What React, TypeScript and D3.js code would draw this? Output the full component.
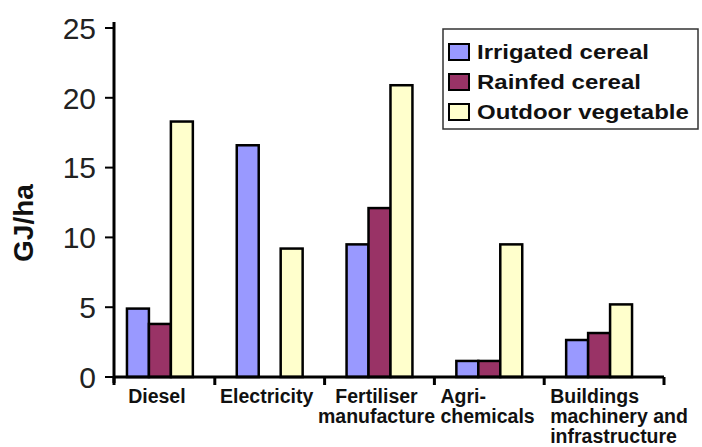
import React from "react";
import * as d3 from "d3";

const categories = ["Diesel", "Electricity", "Fertiliser manufacture", "Agri-chemicals", "Buildings machinery and infrastructure"];
const categoryLines = [["Diesel"], ["Electricity"], ["Fertiliser", "manufacture"], ["Agri-", "chemicals"], ["Buildings", "machinery and", "infrastructure"]];
const seriesNames = ["Irrigated cereal", "Rainfed cereal", "Outdoor vegetable"];
const irrigated = [4.9, 16.6, 9.5, 1.15, 2.65];
const rainfed = [3.8, 0, 12.1, 1.15, 3.15];
const outdoor = [18.3, 9.2, 20.9, 9.5, 5.2];
const yTicks = [0, 5, 10, 15, 20, 25];
const colors = ["#9999ff", "#993366", "#ffffcc"];

const FONT = "'Liberation Sans', Arial, sans-serif";

export default function App() {
  const W = 702, H = 447;
  const axisLeft = 114, axisRight = 664, yBottom = 377, yTop = 28;
  const series = [irrigated, rainfed, outdoor];
  const x = d3.scaleBand<string>().domain(categories).range([105, 654]).padding(0);
  const bw = x.bandwidth();
  const xs = d3.scaleBand<string>().domain(seriesNames).range([bw * 0.2, bw * 0.8]).padding(0);
  const y = d3.scaleLinear().domain([0, 25]).range([yBottom, yTop]);
  const labelAlign = ["middle", "middle", "middle", "start", "start"];
  const sepTicks = [axisLeft, ...categories.slice(1).map((c) => x(c) as number), axisRight];

  return (
    <svg width={W} height={H} style={{ position: "absolute", left: 0, top: 0, background: "#fff" }} fontFamily={FONT}>
      <rect x={0} y={0} width={W} height={H} fill="#fff" />
      {/* bars */}
      {categories.map((c, i) => (
        <g key={c} transform={`translate(${x(c)},0)`}>
          {seriesNames.map((s, j) => {
            const v = series[j][i];
            if (!v) return null;
            return (
              <rect key={s} x={xs(s)} y={y(v)} width={xs.bandwidth()} height={y(0) - y(v)}
                fill={colors[j]} stroke="#000" strokeWidth={2.5} />
            );
          })}
        </g>
      ))}
      {/* y axis */}
      <line x1={axisLeft} x2={axisLeft} y1={22} y2={383} stroke="#000" strokeWidth={3} />
      {yTicks.map((t) => (
        <g key={t}>
          <line x1={105} x2={axisLeft} y1={y(t)} y2={y(t)} stroke="#000" strokeWidth={2} />
          <text x={96} y={y(t)} dy="0.36em" textAnchor="end" fontSize={30} fill="#222">{t}</text>
        </g>
      ))}
      {/* x axis */}
      <line x1={axisLeft} x2={axisRight} y1={yBottom} y2={yBottom} stroke="#000" strokeWidth={3} />
      {sepTicks.map((px, k) => (
        <line key={k} x1={px} x2={px} y1={yBottom} y2={yBottom + 8} stroke="#000" strokeWidth={3} />
      ))}
      {categories.map((c, i) => {
        const align = labelAlign[i];
        const lx = align === "middle" ? (x(c) as number) + bw / 2 - 3 : (x(c) as number) + 6;
        return (
          <text key={c} textAnchor={align} fontSize={19.5} fontWeight="bold" fill="#111">
            {categoryLines[i].map((ln, k) => (
              <tspan key={k} x={lx} y={403 + k * 20}>{ln}</tspan>
            ))}
          </text>
        );
      })}
      {/* y label */}
      <text transform="translate(33,223) rotate(-90)" textAnchor="middle" fontSize={28} fontWeight="bold" fill="#111">GJ/ha</text>
      {/* legend */}
      <rect x={443} y={29} width={255} height={100} fill="#fff" stroke="#333" strokeWidth={1.5} />
      {seriesNames.map((s, j) => (
        <g key={s}>
          <rect x={449} y={44 + j * 30} width={20} height={16} fill={colors[j]} stroke="#000" strokeWidth={2} />
          <g transform={`translate(477,${59 + j * 30}) scale(1.17,1)`}>
            <text x={0} y={0} fontSize={20.5} fontWeight="bold" fill="#111">{s}</text>
          </g>
        </g>
      ))}
    </svg>
  );
}
